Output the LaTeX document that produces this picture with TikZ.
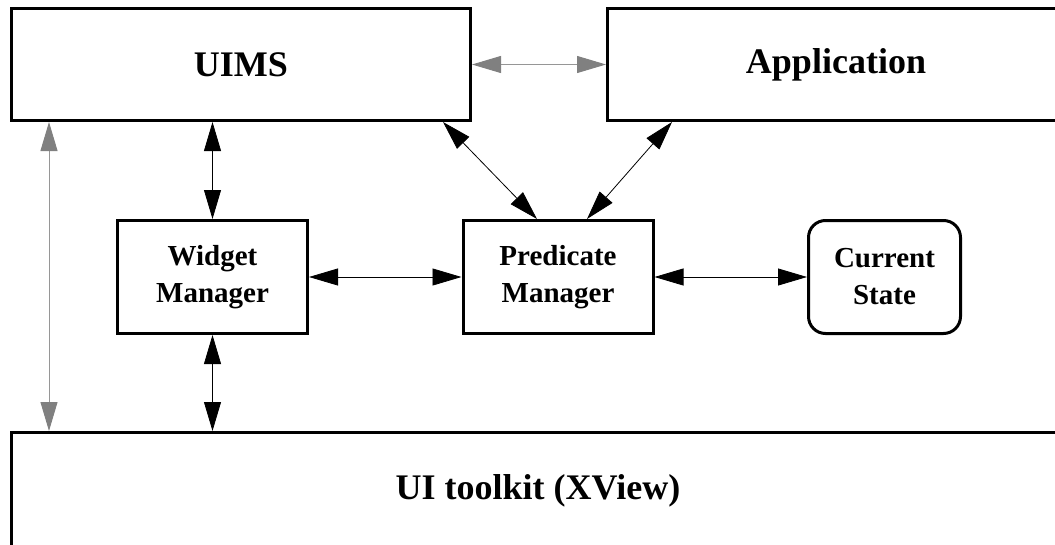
\documentclass[tikz,border=0pt]{standalone}
\usepackage{fontspec}
\setmainfont{Liberation Serif}
\usetikzlibrary{arrows.meta}
\definecolor{headgray}{RGB}{128,128,128}
\definecolor{linegray}{RGB}{150,150,150}
\begin{document}
\begin{tikzpicture}[x=1pt,y=-1pt,
  bigbox/.style={draw, line width=3pt, inner sep=0pt, font=\bfseries\fontsize{36}{40}\selectfont, align=center, minimum height=112pt},
  midbox/.style={draw, line width=3pt, inner sep=0pt, minimum width=190pt, minimum height=113pt, font=\bfseries\fontsize{29}{37}\selectfont, align=center},
  link/.style={{Triangle[length=29pt,width=17pt]}-{Triangle[length=29pt,width=17pt]}, line width=0.8pt},
  glink/.style={{Triangle[length=29pt,width=17pt,color=headgray]}-{Triangle[length=29pt,width=17pt,color=headgray]}, line width=1pt, draw=linegray}]
\useasboundingbox (0,0) rectangle (1055,544);
\node[bigbox, minimum width=459pt] (uims) at (241,64.5) {UIMS};
\node[bigbox, minimum width=457pt] (app) at (836,64.5) {Application};
\node[midbox] (widget) at (212.5,277) {Widget\\Manager};
\node[midbox] (pred) at (558,277) {Predicate\\Manager};
\node[midbox, minimum width=152pt, rounded corners=17pt] (cur) at (884.5,277) {Current\\State};
\node[bigbox, minimum width=1053pt, minimum height=117pt] (toolkit) at (538,491) {\raisebox{2pt}{UI toolkit (XView)}};
\draw[glink] (uims.east) -- (app.west);
\draw[glink] ([xshift=39pt]uims.south west) -- ([xshift=39pt]uims.south west |- toolkit.north);
\draw[link] (uims.south -| widget.north) -- (widget.north);
\draw[link] (widget.south) -- (widget.south |- toolkit.north);
\draw[link] (widget.east) -- (pred.west);
\draw[link] (pred.east) -- (cur.west);
\draw[link] ([xshift=-29pt]uims.south east) -- ([xshift=-21pt]pred.north);
\draw[link] ([xshift=66pt]app.south west) -- ([xshift=29pt]pred.north);
\end{tikzpicture}
\end{document}
